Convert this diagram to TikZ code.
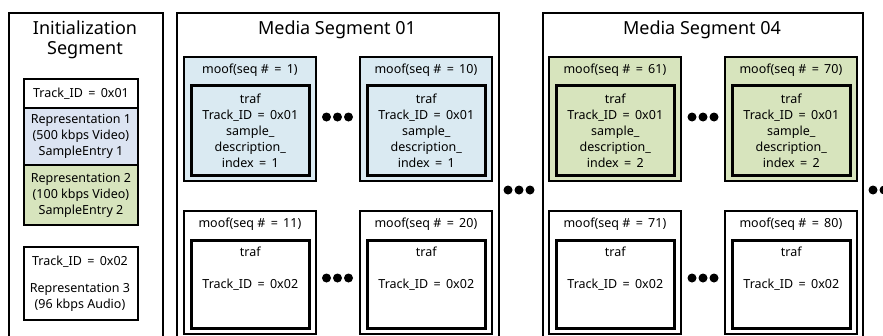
\documentclass[tikz,border=0pt]{standalone}
\usepackage{fontspec}
\setmainfont{Noto Sans}
\usetikzlibrary{positioning}
\definecolor{repblue}{HTML}{DCE4F2}
\definecolor{moofblue}{HTML}{DAEAF2}
\definecolor{moofgreen}{HTML}{D7E4BD}
\tikzset{
  segbox/.style={draw, line width=2pt, anchor=north west, inner sep=0pt},
  moofbox/.style={draw, line width=1.8pt, anchor=north west, minimum width=132pt, inner sep=0pt},
  trafbox/.style={draw, line width=2.6pt, anchor=north west, minimum width=118pt, inner sep=0pt},
  small/.style={font=\fontsize{12.5}{16}\selectfont, align=center, inner sep=0pt},
  title/.style={font=\fontsize{18}{20}\selectfont, align=center, inner sep=0pt},
}
\newcommand{\dotrow}[2]{\foreach \dx in {-11,0,11} {\fill (#1+\dx,#2) circle (4.5pt);}}
\newcommand{\eq}{\ \,=\ \,}

\begin{document}
\begin{tikzpicture}[x=1pt,y=-1pt]
  \useasboundingbox (0,0) rectangle (883,335);
  \clip (0,0) rectangle (883,335);
  % Segments
  \node[segbox, minimum width=154pt, minimum height=340pt] (init) at (8,12) {};
  \node[segbox, minimum width=322pt, minimum height=340pt] (seg1) at (176,12) {};
  \node[segbox, minimum width=320pt, minimum height=340pt] (seg4) at (542,12) {};
  \node[title] (init-t) at (85,40) {Initialization\\Segment};
  \node[title] (seg1-t) at (337,30) {Media Segment 01};
  \node[title] (seg4-t) at (702,30) {Media Segment 04};
  % Initialization segment
  \node[segbox, minimum width=114pt, minimum height=29pt, small] (tk1) at (23,78) {Track\_ID\eq 0x01};
  \node[segbox, fill=repblue, minimum width=114pt, minimum height=57pt, small] (rep1) at (23,107) {Representation 1\\(500 kbps Video)\\SampleEntry 1};
  \node[segbox, fill=moofgreen, minimum width=114pt, minimum height=60pt, small] (rep2) at (23,164) {Representation 2\\(100 kbps Video)\\SampleEntry 2};
  \node[segbox, minimum width=114pt, minimum height=73pt] (tk2) at (23,246) {};
  \node[small] (tk2-t) at (80,262) {Track\_ID\eq 0x02};
  \node[small] (rep3) at (80,297) {Representation 3\\(96 kbps Audio)};
  % moof boxes, track 1
  \foreach \n/\x/\c/\s/\i in {a/183/moofblue/1/1, b/359/moofblue/10/1, c/548/moofgreen/61/2, d/724/moofgreen/70/2} {
    \node[moofbox, fill=\c, minimum height=124pt] (moof\n) at (\x,56) {};
    \node[small, below=8pt of moof\n.north] (moof\n-t) {moof(seq \#\eq\s)};
    \node[trafbox, fill=\c, minimum height=90pt] (traf\n) at (\x+7,84) {};
    \node[small] (traf\n-t) at (traf\n.center) {traf\\Track\_ID\eq 0x01\\sample\_\\description\_\\index\eq\i};
  }
  % moof boxes, track 2
  \foreach \n/\x/\s in {e/183/11, f/359/20, g/548/71, h/724/80} {
    \node[moofbox, minimum height=123pt] (moof\n) at (\x,210) {};
    \node[small, below=8pt of moof\n.north] (moof\n-t) {moof(seq \#\eq\s)};
    \node[trafbox, minimum height=88pt] (traf\n) at (\x+7,239) {};
    \node[small, below=8pt of traf\n.north] (traf\n-t) {traf};
    \node[small] (traf\n-id) at (traf\n.center) {Track\_ID\eq 0x02};
  }
  % Dots
  \dotrow{337.5}{117}
  \dotrow{337.5}{278}
  \dotrow{703}{117}
  \dotrow{703}{278}
  \dotrow{519}{190}
  \dotrow{884}{190}
\end{tikzpicture}
\end{document}
